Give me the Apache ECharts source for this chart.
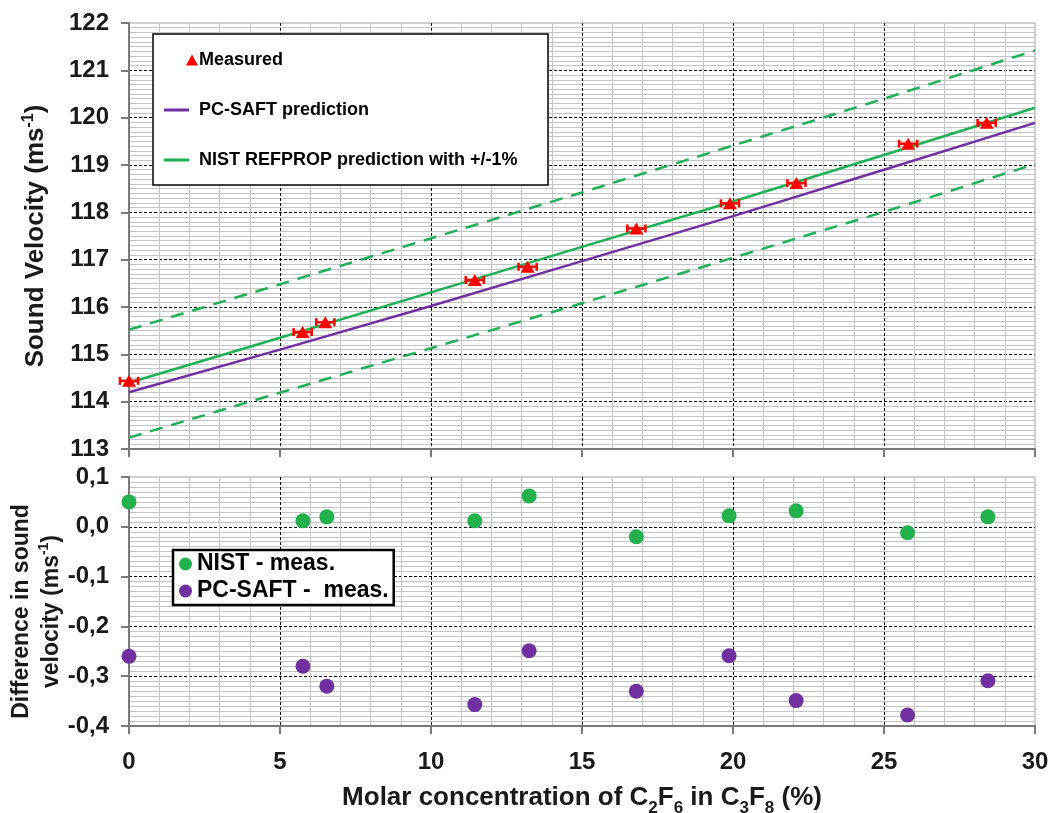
<!DOCTYPE html>
<html>
<head>
<meta charset="utf-8">
<script src="https://cdn.jsdelivr.net/npm/echarts@6/dist/echarts.min.js"></script>
<style>
html,body{margin:0;padding:0;background:#fff;}
#chart{width:1051px;height:813px;}
</style>
</head>
<body>
<div id="chart"></div>
<script>
// ---- data ----
const measuredX = [0, 5.75, 6.5, 11.45, 13.2, 16.8, 19.9, 22.1, 25.8, 28.4];
const measuredY = [114.44, 115.47, 115.68, 116.57, 116.85, 117.66, 118.19, 118.62, 119.45, 119.89];
const measuredXErr = [0.3, 0.3, 0.3, 0.3, 0.3, 0.3, 0.3, 0.3, 0.3, 0.3];

const lineX = [0, 5, 10, 15, 20, 25, 30];
const nistLine = [114.40, 115.35, 116.31, 117.27, 118.23, 119.21, 120.21];
const pcsaftLine = [114.20, 115.10, 116.02, 116.97, 117.92, 118.90, 119.89];
const nistUpper = [115.52, 116.48, 117.45, 118.42, 119.41, 120.40, 121.42];
const nistLower = [113.24, 114.19, 115.13, 116.08, 117.04, 118.01, 119.02];

const diffX = [0, 5.76, 6.55, 11.45, 13.25, 16.8, 19.87, 22.09, 25.78, 28.44];
const diffNist = [0.05, 0.012, 0.02, 0.012, 0.062, -0.02, 0.022, 0.032, -0.012, 0.02];
const diffPcsaft = [-0.26, -0.28, -0.32, -0.357, -0.249, -0.33, -0.259, -0.349, -0.378, -0.309];

const xTickLabels = ['0', '5', '10', '15', '20', '25', '30'];
const yTopTickLabels = ['113', '114', '115', '116', '117', '118', '119', '120', '121', '122'];
const yBottomTickLabels = ['-0,4', '-0,3', '-0,2', '-0,1', '0,0', '0,1'];

const names = {
  measured: 'Measured',
  pcsaft: 'PC-SAFT prediction',
  nist: 'NIST REFPROP prediction with +/-1%',
  nistUp: 'NIST +1%',
  nistLo: 'NIST -1%',
  dNist: 'NIST - meas.',
  dPc: 'PC-SAFT -  meas.'
};

// ---- styling ----
const FONT = 'Liberation Sans, Arial, sans-serif';
const GREEN = '#1DB055';
const PURPLE = '#7030A0';
const RED = '#FF0000';
const DOT_GREEN = '#22B14C';
const DOT_PURPLE = '#7030A0';

const pair = (xs, ys) => xs.map((x, i) => [x, ys[i]]);

const majorSplit = {show: true, showMaxLine: false, showMinLine: false,
  lineStyle: {color: '#000', width: 1, type: [3, 2]}};
const minorSplit = {show: true, lineStyle: {color: '#c4c4c4', width: 1}};
const axisLine = {show: true, onZero: false, lineStyle: {color: '#7a7a7a', width: 2}};
const axisTick = {show: true, inside: false, length: 8, lineStyle: {color: '#7a7a7a', width: 2}};
const labelStyle = {color: '#1a1a1a', fontFamily: FONT, fontWeight: 'bold', fontSize: 24};

const chart = echarts.init(document.getElementById('chart'), null, {renderer: 'canvas'});

const option = {
  animation: false,
  backgroundColor: '#fff',
  grid: [
    {left: 129, top: 23, width: 906, height: 426, show: true, borderColor: '#a0a0a0', borderWidth: 1,
      containLabel: false, outerBoundsMode: 'none'},
    {left: 129, top: 477, width: 906, height: 249, show: true, borderColor: '#a0a0a0', borderWidth: 1,
      containLabel: false, outerBoundsMode: 'none'}
  ],
  xAxis: [
    {type: 'value', gridIndex: 0, min: 0, max: 30, interval: 5,
      axisLine, axisTick, axisLabel: {show: false},
      splitLine: majorSplit, minorTick: {show: false, splitNumber: 5}, minorSplitLine: minorSplit},
    {type: 'value', gridIndex: 1, min: 0, max: 30, interval: 5,
      axisLine, axisTick,
      axisLabel: Object.assign({margin: 24, formatter: (v) => xTickLabels[Math.round(v / 5)]}, labelStyle),
      splitLine: majorSplit, minorTick: {show: false, splitNumber: 5}, minorSplitLine: minorSplit,
      name: '{a|Molar concentration of C}{s|2}{a|F}{s|6}{a| in C}{s|3}{a|F}{s|8}{a| (%)}',
      nameLocation: 'middle', nameGap: 57,
      nameTextStyle: {rich: {
        a: {fontFamily: FONT, fontWeight: 'bold', fontSize: 26, color: '#1a1a1a', lineHeight: 30},
        s: {fontFamily: FONT, fontWeight: 'bold', fontSize: 17, color: '#1a1a1a', lineHeight: 30, verticalAlign: 'bottom', padding: [0, 0, -4, 0]}
      }}}
  ],
  yAxis: [
    {type: 'value', gridIndex: 0, min: 113, max: 122, interval: 1,
      axisLine, axisTick,
      axisLabel: Object.assign({margin: 20, formatter: (v) => yTopTickLabels[Math.round(v - 113)]}, labelStyle),
      splitLine: majorSplit, minorTick: {show: false, splitNumber: 10}, minorSplitLine: minorSplit,
      name: '{a|Sound Velocity (ms}{s|-1}{a|)}',
      nameLocation: 'middle', nameGap: 78, nameRotate: 90,
      nameTextStyle: {rich: {
        a: {fontFamily: FONT, fontWeight: 'bold', fontSize: 26, color: '#1a1a1a', lineHeight: 30},
        s: {fontFamily: FONT, fontWeight: 'bold', fontSize: 16, color: '#1a1a1a', lineHeight: 30, verticalAlign: 'top'}
      }}},
    {type: 'value', gridIndex: 1, min: -0.4, max: 0.1, interval: 0.1,
      axisLine, axisTick,
      axisLabel: Object.assign({margin: 20, formatter: (v) => yBottomTickLabels[Math.round((v + 0.4) * 10)]}, labelStyle),
      splitLine: majorSplit, minorTick: {show: false, splitNumber: 10}, minorSplitLine: minorSplit,
      name: '{a|Difference in sound}\n{a|velocity (ms}{s|-1}{a|)}',
      nameLocation: 'middle', nameGap: 62, nameRotate: 90, nameMoveOverlap: false,
      nameTextStyle: {padding: [0, 20, 0, 0], rich: {
        a: {fontFamily: FONT, fontWeight: 'bold', fontSize: 23, color: '#1a1a1a', lineHeight: 30},
        s: {fontFamily: FONT, fontWeight: 'bold', fontSize: 14, color: '#1a1a1a', lineHeight: 30, verticalAlign: 'top'}
      }}}
  ],
  legend: [
    {data: [{name: names.measured, icon: 'triangle'}], left: 186, top: 50, padding: 0,
      itemWidth: 12, itemHeight: 11, z: 20, selectedMode: false,
      textStyle: {fontFamily: FONT, fontWeight: 'bold', fontSize: 18, color: '#000', lineHeight: 20, padding: [0, 0, 0, -4]}},
    {data: [{name: names.pcsaft, icon: 'rect'}, {name: names.nist, icon: 'rect'}],
      orient: 'vertical', left: 164, top: 100, itemGap: 30, padding: 0,
      itemWidth: 25, itemHeight: 3, z: 20, selectedMode: false,
      textStyle: {fontFamily: FONT, fontWeight: 'bold', fontSize: 18, color: '#000', lineHeight: 20, padding: [0, 0, 0, 5]}},
    {data: [{name: names.dNist, icon: 'circle'}, {name: names.dPc, icon: 'circle'}],
      orient: 'vertical', left: 173, top: 550, itemGap: 2,
      itemWidth: 13, itemHeight: 13, z: 20, selectedMode: false,
      padding: [1.5, 5, 1.5, 6], borderColor: '#000', borderWidth: 2.5, backgroundColor: '#fff',
      textStyle: {fontFamily: FONT, fontWeight: 'bold', fontSize: 23, color: '#000', lineHeight: 25}}
  ],
  graphic: [
    {type: 'rect', z: 10, shape: {x: 153, y: 34, width: 395, height: 151},
      style: {fill: '#fff', stroke: '#000', lineWidth: 1.5}}
  ],
  series: [
    {name: names.nistUp, type: 'line', xAxisIndex: 0, yAxisIndex: 0, data: pair(lineX, nistUpper),
      symbol: 'none', lineStyle: {color: GREEN, width: 2.5, type: [13, 9]}, itemStyle: {color: GREEN}, z: 3},
    {name: names.nistLo, type: 'line', xAxisIndex: 0, yAxisIndex: 0, data: pair(lineX, nistLower),
      symbol: 'none', lineStyle: {color: GREEN, width: 2.5, type: [13, 9]}, itemStyle: {color: GREEN}, z: 3},
    {name: names.pcsaft, type: 'line', xAxisIndex: 0, yAxisIndex: 0, data: pair(lineX, pcsaftLine),
      symbol: 'none', lineStyle: {color: PURPLE, width: 2.5}, itemStyle: {color: PURPLE}, z: 3},
    {name: names.nist, type: 'line', xAxisIndex: 0, yAxisIndex: 0, data: pair(lineX, nistLine),
      symbol: 'none', lineStyle: {color: GREEN, width: 2.5}, itemStyle: {color: GREEN}, z: 3},
    {name: 'Measured error', type: 'custom', xAxisIndex: 0, yAxisIndex: 0, z: 4,
      data: measuredX.map((x, i) => [x, measuredY[i], measuredXErr[i]]),
      renderItem: function (params, api) {
        const x = api.value(0), y = api.value(1), e = api.value(2);
        const p1 = api.coord([x - e, y]);
        const p2 = api.coord([x + e, y]);
        const c = 4;
        const st = {stroke: RED, lineWidth: 2.5};
        return {type: 'group', children: [
          {type: 'line', shape: {x1: p1[0], y1: p1[1], x2: p2[0], y2: p2[1]}, style: st},
          {type: 'line', shape: {x1: p1[0], y1: p1[1] - c, x2: p1[0], y2: p1[1] + c}, style: st},
          {type: 'line', shape: {x1: p2[0], y1: p2[1] - c, x2: p2[0], y2: p2[1] + c}, style: st}
        ]};
      }},
    {name: names.measured, type: 'scatter', xAxisIndex: 0, yAxisIndex: 0, data: pair(measuredX, measuredY),
      symbol: 'triangle', symbolSize: [14, 12], itemStyle: {color: RED, opacity: 1}, z: 5},
    {name: names.dNist, type: 'scatter', xAxisIndex: 1, yAxisIndex: 1, data: pair(diffX, diffNist),
      symbol: 'circle', symbolSize: 15, itemStyle: {color: DOT_GREEN, opacity: 1}, z: 5},
    {name: names.dPc, type: 'scatter', xAxisIndex: 1, yAxisIndex: 1, data: pair(diffX, diffPcsaft),
      symbol: 'circle', symbolSize: 15, itemStyle: {color: DOT_PURPLE, opacity: 1}, z: 5}
  ]
};
chart.setOption(option);
</script>
</body>
</html>
